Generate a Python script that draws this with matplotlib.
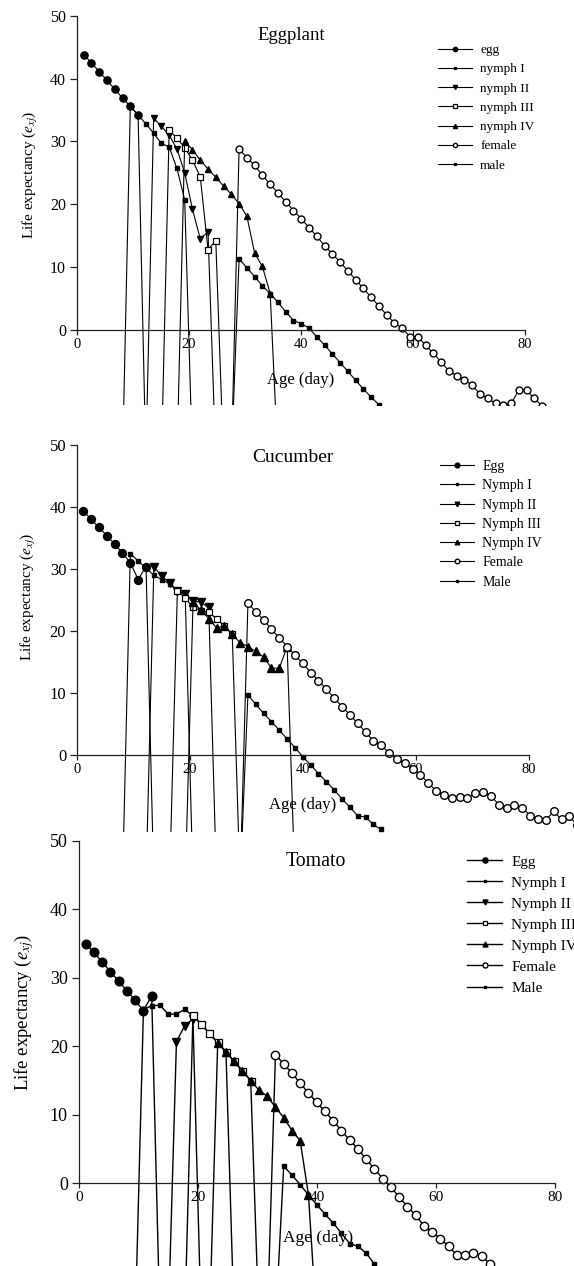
import matplotlib

matplotlib.use("Agg")
import matplotlib.pyplot as plt
import numpy as np

plt.rcParams["font.family"] = ["Liberation Serif", "DejaVu Serif"]
plt.rcParams["mathtext.fontset"] = "stix"

# value the curves fall to outside each stage (below the visible area)
FLOOR = -20.7

LABELS_LOWER = ["egg", "nymph I", "nymph II", "nymph III", "nymph IV", "female", "male"]
LABELS_UPPER = ["Egg", "Nymph I", "Nymph II", "Nymph III", "Nymph IV", "Female", "Male"]

# ---- Eggplant: values per stage, start = index of first age class ----
EGGPLANT_EGG = [43.8, 42.5, 41.1, 39.7, 38.3, 36.9, 35.6, 34.2]
EGGPLANT_N1 = [35.6, 34.2, 32.8, 31.3, 29.7, 29.1, 25.7, 20.7]
EGGPLANT_N2 = [33.7, 32.4, 31.0, 28.8, 25.0, 19.2, 14.5, 15.6]
EGGPLANT_N3 = [31.8, 30.5, 29.0, 27.0, 24.4, 12.8, 14.2]
EGGPLANT_N4 = [30.0, 28.7, 27.0, 25.6, 24.3, 22.9, 21.6, 20.1, 18.1, 12.2, 10.1, 5.8]
EGGPLANT_FEMALE = [28.8, 27.4, 26.2, 24.6, 23.2, 21.8, 20.4, 19.0, 17.7, 16.3, 14.9, 13.4,
                   12.1, 10.8, 9.4, 8.0, 6.6, 5.2, 3.8, 2.4, 1.1, 0.3, -1.1, -1.1, -2.4,
                   -3.7, -5.1, -6.5, -7.3, -8.0, -8.8, -10.2, -10.9, -11.7, -11.9, -11.7,
                   -9.6, -9.6, -10.9, -12.1, -13.4, -14.7]
EGGPLANT_MALE = [11.3, 9.9, 8.5, 7.0, 5.8, 4.4, 2.9, 1.5, 1.0, 0.3, -1.1, -2.4, -3.8, -5.2,
                 -6.6, -8.0, -9.4, -10.7, -11.9, -13.3, -14.7]
EGGPLANT_START = [0, 6, 9, 11, 13, 20, 20]

# ---- Cucumber ----
CUCUMBER_EGG = [39.4, 38.0, 36.7, 35.4, 34.0, 32.6, 31.0, 28.3, 30.4]
CUCUMBER_N1 = [32.5, 31.3, 30.1, 29.0, 28.3, 27.6, 26.5, 25.8]
CUCUMBER_N2 = [30.4, 28.8, 27.8, 26.4, 26.0, 24.9, 24.6, 23.8]
CUCUMBER_N3 = [26.5, 25.3, 23.8, 23.3, 23.0, 22.0, 20.8, 19.5]
CUCUMBER_N4 = [24.6, 23.4, 22.0, 20.5, 20.8, 19.5, 18.1, 17.5, 16.7, 15.8, 14.0, 14.0, 17.5]
CUCUMBER_FEMALE = [24.5, 23.1, 21.8, 20.3, 18.9, 17.5, 16.1, 14.8, 13.3, 12.0, 10.6, 9.2,
                   7.8, 6.5, 5.1, 3.7, 2.3, 1.6, 0.3, -0.7, -1.3, -2.3, -3.2, -4.5, -5.8,
                   -6.5, -6.9, -6.7, -6.9, -6.2, -6.0, -6.6, -8.0, -8.6, -8.1, -8.5, -9.8,
                   -10.3, -10.5, -9.1, -10.4, -9.9, -11.3, -12.5]
CUCUMBER_MALE = [9.7, 8.2, 6.7, 5.4, 4.0, 2.6, 1.2, -0.3, -1.6, -3.0, -4.3, -5.6, -7.1,
                 -8.4, -9.8, -10.0, -11.2, -12.0, -13.5, -15.0]
CUCUMBER_START = [0, 6, 9, 12, 14, 21, 21]

# ---- Tomato ----
TOMATO_EGG = [35.0, 33.7, 32.3, 30.9, 29.5, 28.1, 26.7, 25.2, 27.4]
TOMATO_N1 = [25.4, 25.9, 26.0, 24.7, 24.7, 25.4, 24.4, 23.2, 21.8, 20.5, 19.2]
TOMATO_N2 = [20.7, 23.0, 24.0]
TOMATO_N3 = [24.5, 23.3, 21.9, 20.6, 19.2, 17.8, 16.4, 15.0]
TOMATO_N4 = [20.5, 19.2, 17.8, 16.4, 15.0, 13.6, 12.7, 11.1, 9.6, 7.7, 6.2, -1.7]
TOMATO_FEMALE = [18.8, 17.4, 16.1, 14.6, 13.2, 11.8, 10.5, 9.1, 7.7, 6.3, 5.0, 3.5, 2.1,
                 0.7, -0.6, -2.0, -3.4, -4.7, -6.2, -7.1, -8.1, -9.2, -10.5, -10.5, -10.2,
                 -10.6, -11.8, -13.2, -14.5]
TOMATO_MALE = [2.5, 1.2, -0.2, -1.7, -3.1, -4.5, -5.8, -7.3, -8.8, -9.2, -10.2, -11.8,
               -13.2, -14.6]
TOMATO_START = [0, 7, 11, 13, 16, 23, 24]

# age of the first class and spacing between age classes on the x axis
AGE_FIRST = [1.196, 1.064, 1.126]
AGE_STEP = [1.3875, 1.390, 1.3866]

W, H = 574, 1266


def fx(px):
    return px / W


def fy(py):
    return 1 - py / H


def stage_styles(scale):
    small = dict(marker="s", ms=2.2 * scale, mfc="black", mec="black")
    return [
        dict(marker="o", ms=5.2 * scale, mfc="black", mec="black"),
        small,
        dict(marker="v", ms=5.0 * scale, mfc="black", mec="black"),
        dict(marker="s", ms=4.2 * scale, mfc="white", mec="black", mew=0.9),
        dict(marker="^", ms=5.0 * scale, mfc="black", mec="black"),
        dict(marker="o", ms=5.0 * scale, mfc="white", mec="black", mew=1.0),
        small,
    ]


def draw_panel(fig, box, ylim, xmax, series, starts, first, step, labels, title, fonts,
               title_xy, ylabel_xy, xlabel_xy, legend_xy, scale, lw):
    left, top, right, bottom = box
    ax = fig.add_axes([fx(left), fy(bottom), fx(right - left), (bottom - top) / H])
    handles = []
    for vals, start, st in zip(series, starts, stage_styles(scale)):
        y = list(vals) + [FLOOR]
        i0 = start
        if start > 0:
            y = [FLOOR] + y
            i0 = start - 1
        x = first + step * np.arange(i0, i0 + len(y))
        (ln,) = ax.plot(x, y, color="black", lw=lw, **st)
        handles.append(ln)

    ax.set_xlim(0, xmax)
    ax.set_ylim(*ylim)
    for s in ("top", "right"):
        ax.spines[s].set_visible(False)
    ax.spines["bottom"].set_position(("data", 0))
    ax.spines["bottom"].set_bounds(0, 80)
    ax.spines["left"].set_bounds(0, 50)
    for s in ("bottom", "left"):
        ax.spines[s].set_linewidth(0.9)
        ax.spines[s].set_color("#222222")
    ax.set_xticks([0, 20, 40, 60, 80])
    ax.set_yticks([0, 10, 20, 30, 40, 50])
    ax.tick_params(axis="x", direction="out", length=3.5, width=0.9, pad=2,
                   labelsize=fonts["xtick"], color="#222222")
    ax.tick_params(axis="y", direction="out", length=5, width=0.9, pad=3,
                   labelsize=fonts["ytick"], color="#222222")
    ax.patch.set_alpha(0)

    fig.text(fx(title_xy[0]), fy(title_xy[1]), title, ha="center", va="center",
             fontsize=fonts["title"])
    fig.text(fx(ylabel_xy[0]), fy(ylabel_xy[1]), r"Life expectancy ($e_{xj}$)",
             rotation=90, ha="center", va="center", fontsize=fonts["ylabel"])
    fig.text(fx(xlabel_xy[0]), fy(xlabel_xy[1]), "Age (day)", ha="center", va="center",
             fontsize=fonts["xlabel"])
    ax.legend(handles, labels, loc="upper left",
              bbox_to_anchor=(fx(legend_xy[0]), fy(legend_xy[1])),
              bbox_transform=fig.transFigure, frameon=False, fontsize=fonts["legend"],
              handlelength=fonts["hlen"], handletextpad=0.6, labelspacing=fonts["lsp"],
              borderpad=0, borderaxespad=0, markerscale=0.6)
    return ax


fig = plt.figure(figsize=(W / 100, H / 100), dpi=100)

draw_panel(
    fig, (77, 0, 574, 405), (-11.94, 52.5), 497 / 5.6,
    [EGGPLANT_EGG, EGGPLANT_N1, EGGPLANT_N2, EGGPLANT_N3, EGGPLANT_N4,
     EGGPLANT_FEMALE, EGGPLANT_MALE],
    EGGPLANT_START, AGE_FIRST[0], AGE_STEP[0], LABELS_LOWER, "Eggplant",
    dict(xtick=10.5, ytick=11.5, title=13.5, ylabel=11, xlabel=12, legend=9.5,
         hlen=2.6, lsp=0.53),
    (291, 35), (30, 175), (301, 380), (438, 44), 1.0, 0.8,
)

draw_panel(
    fig, (77.3, 412, 574, 832), ((755 - 832) / 6.2, (755 - 412) / 6.2), 496.7 / 5.64,
    [CUCUMBER_EGG, CUCUMBER_N1, CUCUMBER_N2, CUCUMBER_N3, CUCUMBER_N4,
     CUCUMBER_FEMALE, CUCUMBER_MALE],
    CUCUMBER_START, AGE_FIRST[1], AGE_STEP[1], LABELS_UPPER, "Cucumber",
    dict(xtick=10.5, ytick=12, title=14, ylabel=11, xlabel=12, legend=10,
         hlen=2.45, lsp=0.45),
    (293, 458), (28, 597), (303, 805), (440, 460), 1.1, 0.8,
)

draw_panel(
    fig, (79, 836, 574, 1266), ((1183.3 - 1266) / 6.85, (1183.3 - 836) / 6.85), 495 / 5.95,
    [TOMATO_EGG, TOMATO_N1, TOMATO_N2, TOMATO_N3, TOMATO_N4, TOMATO_FEMALE, TOMATO_MALE],
    TOMATO_START, AGE_FIRST[2], AGE_STEP[2], LABELS_UPPER, "Tomato",
    dict(xtick=11, ytick=13, title=14.3, ylabel=13.5, xlabel=12.5, legend=11,
         hlen=2.3, lsp=0.48),
    (316, 862), (24, 1012), (318, 1238), (467, 855), 1.2, 1.0,
)

fig.savefig("out.png", dpi=100)
